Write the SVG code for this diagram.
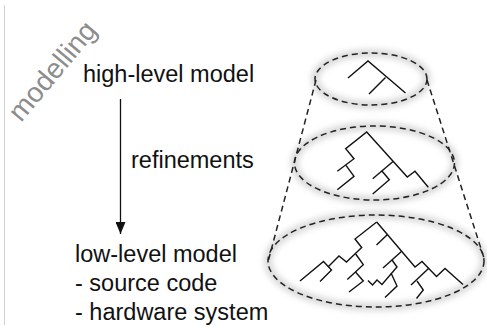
<svg xmlns="http://www.w3.org/2000/svg" width="487" height="327" viewBox="0 0 487 327">
  <defs>
    <filter id="halo" x="-20%" y="-40%" width="140%" height="180%">
      <feGaussianBlur stdDeviation="3"/>
    </filter>
    <marker id="arrowhead" viewBox="0 0 12 10" refX="12" refY="5" markerWidth="12" markerHeight="10" markerUnits="userSpaceOnUse" orient="auto">
      <path d="M0,0 L12,5 L0,10 Z" fill="#111"/>
    </marker>
  </defs>
  <style>
    .label { font-family: "Liberation Sans", Arial, Helvetica, sans-serif; font-size: 23.5px; fill: #111; }
    .side { font-family: "Liberation Sans", Arial, Helvetica, sans-serif; font-size: 28px; fill: #8c8c8c; }
    .glow { fill: none; stroke: #d4d4d4; stroke-width: 7; filter: url(#halo); }
    .dash { fill: none; stroke: #222; stroke-width: 1.5; stroke-dasharray: 6 4; }
    .tree { fill: none; stroke: #111; stroke-width: 1.4; stroke-linejoin: miter; stroke-linecap: butt; }
  </style>

  <rect width="487" height="327" fill="#fff"/>

  <!-- thin frame line on the left -->
  <line x1="4.5" y1="5" x2="4.5" y2="325" stroke="#d0d0d0" stroke-width="1"/>

  <!-- rotated heading -->
  <text class="side" transform="translate(21,123) rotate(-50)">modelling</text>

  <!-- left column: levels of the model -->
  <g id="high-level">
    <text class="label" x="83" y="82">high-level model</text>
  </g>
  <g id="refinements">
    <text class="label" x="131" y="168">refinements</text>
  </g>
  <g id="low-level">
    <text class="label" x="75" y="262">low-level model</text>
    <text class="label" x="75" y="291">- source code</text>
    <text class="label" x="75" y="320">- hardware system</text>
  </g>

  <g id="connectors">
    <line x1="120.5" y1="99" x2="120.5" y2="234" stroke="#111" stroke-width="1.3" marker-end="url(#arrowhead)"/>
  </g>

  <!-- cone of abstraction levels -->
  <g id="cone">
    <ellipse class="glow" cx="371" cy="79" rx="56" ry="26"/>
    <ellipse class="glow" cx="374.5" cy="163" rx="80" ry="37"/>
    <ellipse class="glow" cx="376" cy="261" rx="108" ry="46"/>
    <line class="dash" x1="316" y1="80" x2="268" y2="262"/>
    <line class="dash" x1="427" y1="80" x2="484" y2="258"/>
  </g>

  <g id="level-top">
    <ellipse class="dash" cx="371" cy="79" rx="56" ry="26"/>
    <polyline class="tree" points="348,78 368,61 405.5,93"/>
    <polyline class="tree" points="385.5,77.5 369,94"/>
  </g>

  <g id="level-middle">
    <ellipse class="dash" cx="374.5" cy="163" rx="80" ry="37"/>
    <polyline class="tree" points="337.3,171.3 354,158.7 345.7,148.7 366.7,132 407.3,177 415,171.3 428.3,187.3"/>
    <polyline class="tree" points="346,165.3 354,176.3 337.3,189.7"/>
    <polyline class="tree" points="393.3,161.3 372.7,178.7"/>
    <polyline class="tree" points="381.7,170.7 389.3,179.7 372.7,194"/>
  </g>

  <g id="level-bottom">
    <ellipse class="dash" cx="376" cy="261" rx="108" ry="46"/>
    <!-- left branch -->
    <polyline class="tree" points="376.7,222 355,239 361.7,247.5 346.5,262 339,256 328,267"/>
    <polyline class="tree" points="300,281 323.5,261.5 331.5,270 320,281.5"/>
    <polyline class="tree" points="355.7,254 363.3,264.7 347.3,279.5"/>
    <polyline class="tree" points="355.5,272 363.3,281 349,292"/>
    <!-- right branch -->
    <polyline class="tree" points="376.7,222 415,267 422,261.5 436.5,276.5 445,268.5 463,284.5"/>
    <polyline class="tree" points="387.5,234.5 376.5,245"/>
    <polyline class="tree" points="428.5,268.5 411,285"/>
    <polyline class="tree" points="417,281 423.3,290 416.5,298.5"/>
    <polyline class="tree" points="401.7,251.3 383,268"/>
    <polyline class="tree" points="392,260 397,267 382,284.5 377,280 372.5,285 368,280.5"/>
    <polyline class="tree" points="391,273 397,286 385,297.5"/>
  </g>
</svg>
